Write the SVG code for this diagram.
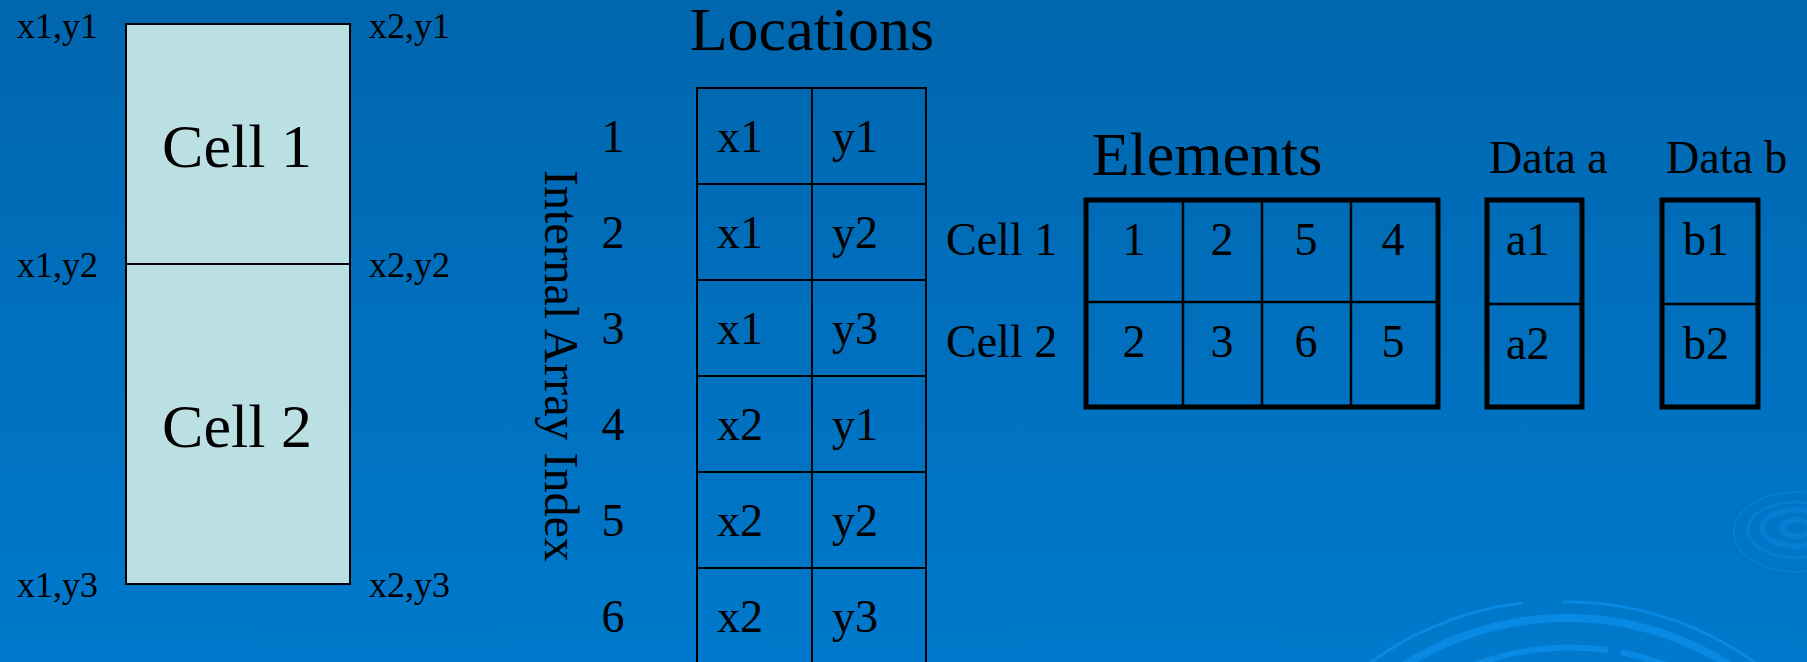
<svg xmlns="http://www.w3.org/2000/svg" width="1807" height="662" viewBox="0 0 1807 662">
  <defs>
    <linearGradient id="bg" x1="0" y1="0" x2="0" y2="1">
      <stop offset="0" stop-color="#0066AE"/>
      <stop offset="1" stop-color="#0079CC"/>
    </linearGradient>
    <style>
      text { font-family: "Liberation Serif", "Times New Roman", serif; fill: #000; }
      .corner { font-size: 36px; }
      .big { font-size: 62px; }
      .title { font-size: 62px; }
      .med { font-size: 46px; }
      .thin { fill: none; stroke: #000; stroke-width: 2; }
      .thick { fill: none; stroke: #000; stroke-width: 5; }
      .mid { stroke: #000; stroke-width: 2.5; }
      .ripple { fill: none; stroke: #0A8FEA; }
    </style>
  </defs>

  <rect x="0" y="0" width="1807" height="662" fill="url(#bg)"/>

  <!-- background ripples -->
  <g id="ripples" opacity="0.8">
    <path class="ripple" stroke-width="3" d="M 1523 603 A 319 319 0 0 0 1250 840"/>
    <path class="ripple" stroke-width="3" d="M 1563 602 A 319 319 0 0 1 1884 880"/>
    <circle class="ripple" stroke-width="8" cx="1567" cy="921" r="303"/>
    <path class="ripple" stroke-width="6" d="M 1608 650 A 274 274 0 0 0 1300 880"/>
    <path class="ripple" stroke-width="6" d="M 1621 652 A 274 274 0 0 1 1840 900"/>
    <g opacity="0.5">
      <ellipse class="ripple" stroke-width="6" cx="1796" cy="528" rx="14" ry="8"/>
      <ellipse class="ripple" stroke-width="6" cx="1796" cy="528" rx="34" ry="18"/>
      <ellipse class="ripple" stroke-width="3" cx="1796" cy="530" rx="48" ry="28"/>
      <ellipse class="ripple" stroke-width="2" cx="1796" cy="532" rx="62" ry="40"/>
    </g>
  </g>

  <!-- Left geometry -->
  <g id="cell-geometry">
    <rect x="126" y="24" width="224" height="560" fill="#BBE0E3" stroke="#000" stroke-width="2"/>
    <line x1="126" y1="264" x2="350" y2="264" stroke="#000" stroke-width="2"/>
    <text class="big" x="237" y="167" text-anchor="middle">Cell 1</text>
    <text class="big" x="237" y="447" text-anchor="middle">Cell 2</text>
  </g>
  <g id="corner-labels">
    <text class="corner" x="17" y="38">x1,y1</text>
    <text class="corner" x="17" y="277">x1,y2</text>
    <text class="corner" x="17" y="597">x1,y3</text>
    <text class="corner" x="369" y="38">x2,y1</text>
    <text class="corner" x="369" y="277">x2,y2</text>
    <text class="corner" x="369" y="597">x2,y3</text>
  </g>

  <!-- Locations table -->
  <g id="locations">
    <text class="title" x="812" y="50" text-anchor="middle">Locations</text>
    <rect class="thin" x="697" y="88" width="229" height="600"/>
    <line class="thin" x1="812" y1="88" x2="812" y2="688"/>
    <line class="thin" x1="697" y1="184" x2="926" y2="184"/>
    <line class="thin" x1="697" y1="280" x2="926" y2="280"/>
    <line class="thin" x1="697" y1="376" x2="926" y2="376"/>
    <line class="thin" x1="697" y1="472" x2="926" y2="472"/>
    <line class="thin" x1="697" y1="568" x2="926" y2="568"/>
    <line class="thin" x1="697" y1="664" x2="926" y2="664"/>
    <text class="med" x="717" y="152">x1</text><text class="med" x="832" y="152">y1</text>
    <text class="med" x="717" y="248">x1</text><text class="med" x="832" y="248">y2</text>
    <text class="med" x="717" y="344">x1</text><text class="med" x="832" y="344">y3</text>
    <text class="med" x="717" y="440">x2</text><text class="med" x="832" y="440">y1</text>
    <text class="med" x="717" y="536">x2</text><text class="med" x="832" y="536">y2</text>
    <text class="med" x="717" y="632">x2</text><text class="med" x="832" y="632">y3</text>
  </g>
  <g id="index">
    <text class="med" x="613" y="152" text-anchor="middle">1</text>
    <text class="med" x="613" y="248" text-anchor="middle">2</text>
    <text class="med" x="613" y="344" text-anchor="middle">3</text>
    <text class="med" x="613" y="440" text-anchor="middle">4</text>
    <text class="med" x="613" y="536" text-anchor="middle">5</text>
    <text class="med" x="613" y="632" text-anchor="middle">6</text>
    <text style="font-size:48px" transform="translate(545,170) rotate(90)">Internal Array Index</text>
  </g>

  <!-- Elements table -->
  <g id="elements">
    <text class="title" x="1207" y="175" text-anchor="middle">Elements</text>
    <text class="med" x="946" y="255">Cell 1</text>
    <text class="med" x="946" y="357">Cell 2</text>
    <rect class="thick" x="1086" y="200" width="352" height="207"/>
    <line class="mid" x1="1183" y1="200" x2="1183" y2="407"/>
    <line class="mid" x1="1262" y1="200" x2="1262" y2="407"/>
    <line class="mid" x1="1351" y1="200" x2="1351" y2="407"/>
    <line class="mid" x1="1086" y1="302" x2="1438" y2="302"/>
    <text class="med" x="1134" y="255" text-anchor="middle">1</text>
    <text class="med" x="1222" y="255" text-anchor="middle">2</text>
    <text class="med" x="1306" y="255" text-anchor="middle">5</text>
    <text class="med" x="1393" y="255" text-anchor="middle">4</text>
    <text class="med" x="1134" y="357" text-anchor="middle">2</text>
    <text class="med" x="1222" y="357" text-anchor="middle">3</text>
    <text class="med" x="1306" y="357" text-anchor="middle">6</text>
    <text class="med" x="1393" y="357" text-anchor="middle">5</text>
  </g>

  <!-- Data a -->
  <g id="data-a">
    <text class="med" x="1489" y="173">Data a</text>
    <rect class="thick" x="1487" y="200" width="95" height="207"/>
    <line class="mid" x1="1487" y1="304" x2="1582" y2="304"/>
    <text class="med" x="1506" y="255">a1</text>
    <text class="med" x="1506" y="359">a2</text>
  </g>

  <!-- Data b -->
  <g id="data-b">
    <text class="med" x="1666" y="173">Data b</text>
    <rect class="thick" x="1662" y="200" width="96" height="207"/>
    <line class="mid" x1="1662" y1="304" x2="1758" y2="304"/>
    <text class="med" x="1683" y="255">b1</text>
    <text class="med" x="1683" y="359">b2</text>
  </g>

  <g id="connectors"/>
</svg>
